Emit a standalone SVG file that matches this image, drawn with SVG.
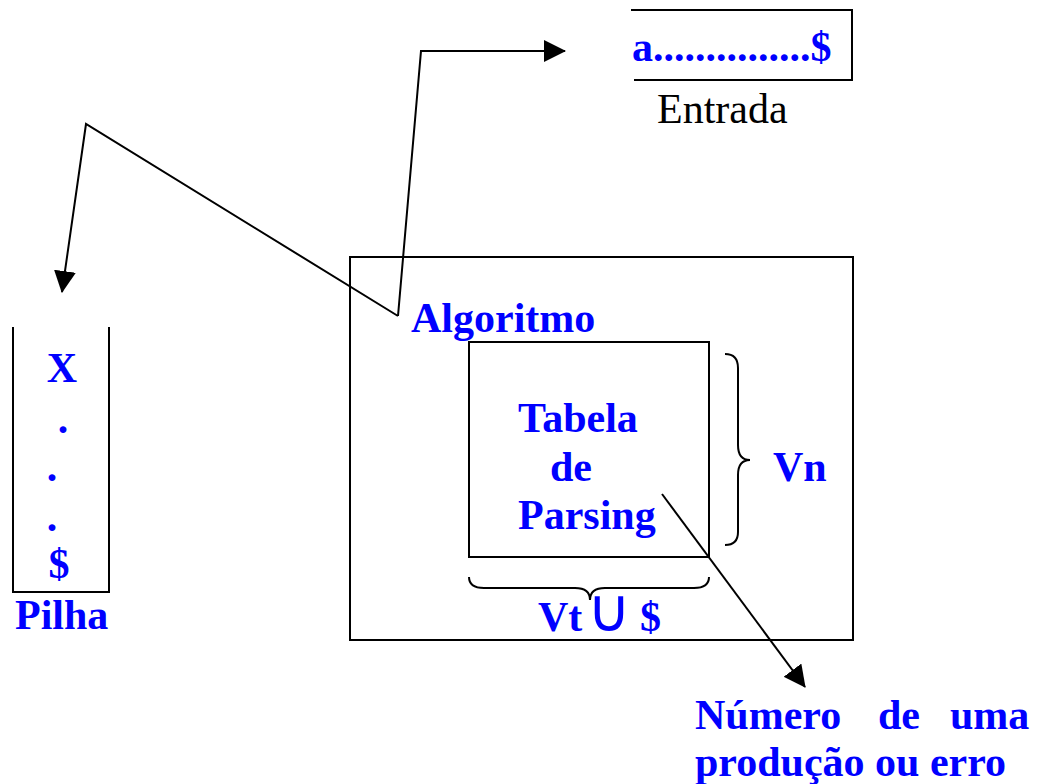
<svg xmlns="http://www.w3.org/2000/svg" width="1047" height="784" viewBox="0 0 1047 784">
<style>
.ln{fill:none;stroke:#000;stroke-width:2}
.b{font-family:"Liberation Serif","Times New Roman",serif;font-weight:bold;fill:#0000ff;font-size:42px}
.n{font-family:"Liberation Serif","Times New Roman",serif;fill:#000;font-size:42px}
.u{font-family:"Liberation Serif","Times New Roman",serif;fill:#0000ff;font-size:60px}
</style>
<defs>
<marker id="ah" markerWidth="24" markerHeight="24" refX="21" refY="11" orient="auto" markerUnits="userSpaceOnUse">
<path d="M0,0 L22,11 L0,22 Z" fill="#000"/>
</marker>
</defs>
<rect width="1047" height="784" fill="#fff"/>
<g id="entrada">
<path class="ln" d="M631,10 H852 M634,80 H852 M852,9 V81"/>
<text class="b" x="632" y="61">a...............$</text>
<text class="n" x="657" y="123">Entrada</text>
</g>
<g id="pilha">
<path class="ln" d="M13,327 V592 H109 V327"/>
<text class="b" x="62" y="382" text-anchor="middle">X</text>
<text class="b" x="63" y="433" text-anchor="middle">.</text>
<text class="b" x="52" y="481" text-anchor="middle">.</text>
<text class="b" x="52" y="531" text-anchor="middle">.</text>
<text class="b" x="59" y="578" text-anchor="middle">$</text>
<text class="b" x="15" y="629">Pilha</text>
</g>
<g id="algoritmo">
<rect class="ln" x="350" y="257" width="503" height="383"/>
<text class="b" x="411" y="332">Algoritmo</text>
</g>
<g id="tabela">
<rect class="ln" x="469" y="342" width="240" height="215"/>
<text class="b" x="518" y="432">Tabela</text>
<text class="b" x="550" y="481">de</text>
<text class="b" x="518" y="529">Parsing</text>
</g>
<g id="vn">
<path class="ln" d="M725,354 Q738,354 738,368 V445 Q738,460 750,460 Q738,460 738,475 V532 Q738,545 725,545"/>
<text class="b" x="773" y="481">Vn</text>
</g>
<g id="vt">
<path class="ln" d="M469,577 Q469,588 484,588 H575 Q590,588 590,600 Q590,588 605,588 H694 Q709,588 709,577"/>
<text class="b" x="538" y="631">Vt</text>
<text class="u" x="609" y="631" text-anchor="middle">∪</text>
<text class="b" x="640" y="631">$</text>
</g>
<g id="saida">
<text class="b" x="695" y="729">Número</text>
<text class="b" x="878" y="729">de</text>
<text class="b" x="950" y="729">uma</text>
<text class="b" x="695" y="776">produção ou erro</text>
</g>
<g id="connectors">
<polyline class="ln" points="398,316 421,51 565,51" marker-end="url(#ah)"/>
<polyline class="ln" points="398,316 86,124 62,292" marker-end="url(#ah)"/>
<line class="ln" x1="662" y1="494" x2="805" y2="687" marker-end="url(#ah)"/>
</g>
</svg>
